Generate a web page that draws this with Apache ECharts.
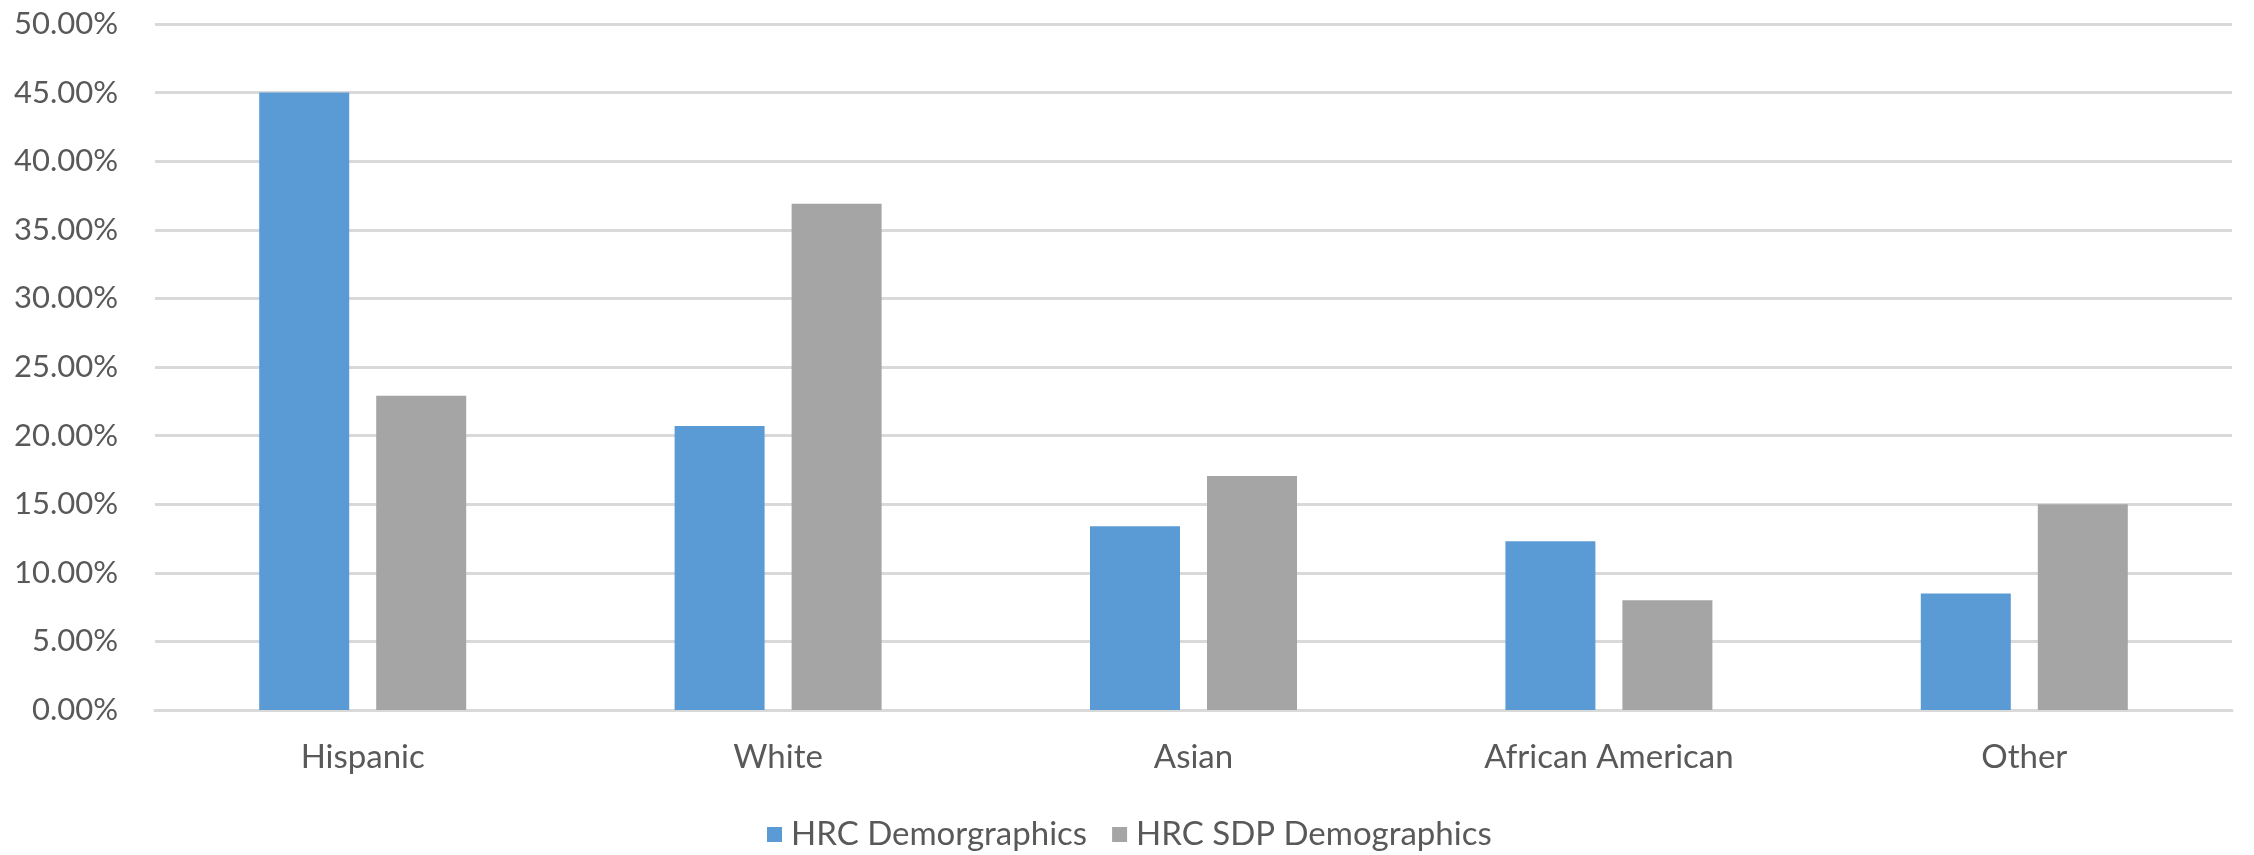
<!DOCTYPE html>
<html>
<head>
<meta charset="utf-8">
<script src="https://cdn.jsdelivr.net/npm/echarts@6/dist/echarts.min.js"></script>
<style>html,body{margin:0;padding:0;background:#fff}#c{width:2254px;height:855px}</style>
</head>
<body>
<div id="c"></div>
<script>
const categories = ['Hispanic', 'White', 'Asian', 'African American', 'Other'];
const hrcDemographics = [45.0, 20.7, 13.4, 12.3, 8.5];
const hrcSdpDemographics = [22.9, 36.9, 17.05, 8.0, 15.0];
const seriesNames = ['HRC Demorgraphics', 'HRC SDP Demographics'];

const chart = echarts.init(document.getElementById('c'), null, {renderer: 'canvas'});
const font = 'Lato';
const textColor = '#595959';
chart.setOption({
  animation: false,
  backgroundColor: '#fff',
  color: ['#5B9BD5', '#A5A5A5'],
  grid: {left: 155, right: 22, top: 24, bottom: 145, containLabel: false},
  legend: {
    left: 762, top: 813,
    itemWidth: 15, itemHeight: 15, itemGap: 25,
    icon: 'rect',
    textStyle: {fontFamily: font, fontSize: 33, color: textColor, padding: [0, 0, 0, 4]},
    data: seriesNames
  },
  xAxis: {
    type: 'category',
    data: categories,
    axisLine: {show: true, lineStyle: {color: '#D9D9D9', width: 3}},
    axisTick: {show: false},
    axisLabel: {fontFamily: font, fontSize: 33, color: textColor, margin: 31}
  },
  yAxis: {
    type: 'value',
    min: 0, max: 50, interval: 5,
    axisLine: {show: false},
    axisTick: {show: false},
    splitLine: {lineStyle: {color: '#D9D9D9', width: 3}},
    axisLabel: {fontFamily: font, fontSize: 31, color: textColor, margin: 37,
      formatter: v => v.toFixed(2) + '%'}
  },
  series: [
    {name: seriesNames[0], type: 'bar', data: hrcDemographics, barWidth: 90, barGap: '30%'},
    {name: seriesNames[1], type: 'bar', data: hrcSdpDemographics, barWidth: 90, barGap: '30%'}
  ]
});
</script>
</body>
</html>
